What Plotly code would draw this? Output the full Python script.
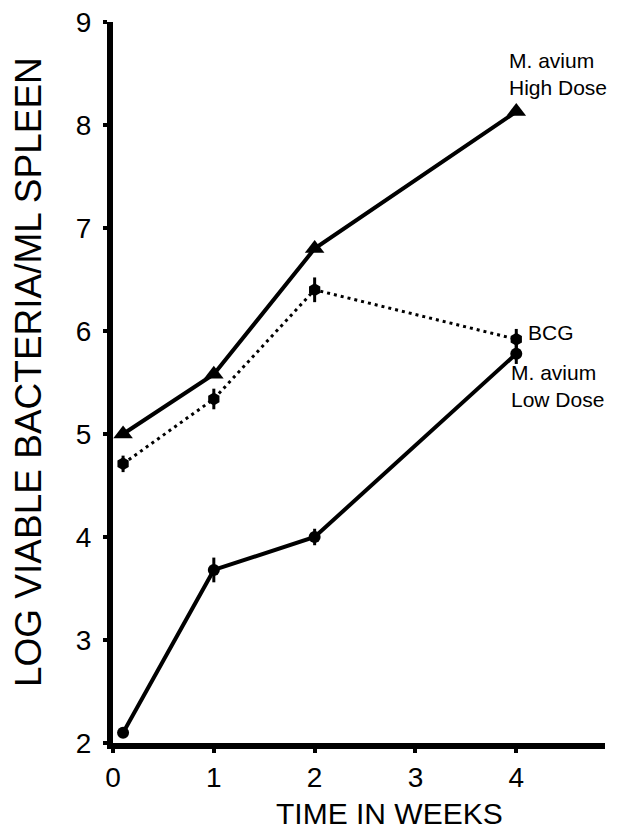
import plotly.graph_objects as go

weeks = [0.1, 1, 2, 4]
high_dose = [5.0, 5.58, 6.80, 8.13]
bcg = [4.71, 5.34, 6.40, 5.92]
bcg_err = [0.08, 0.1, 0.12, 0.1]
low_dose = [2.1, 3.68, 4.0, 5.78]
low_err = [0.05, 0.12, 0.08, 0.1]
x_ticks = [0, 1, 2, 3, 4]
y_ticks = [2, 3, 4, 5, 6, 7, 8, 9]

font = "Liberation Sans, Arial, sans-serif"

fig = go.Figure()
fig.add_trace(go.Scatter(
    x=weeks, y=bcg, mode="lines+markers",
    line=dict(color="black", width=3, dash="3px,4px"),
    marker=dict(symbol="hexagon", size=13, color="black"),
    error_y=dict(type="data", array=bcg_err, color="black", thickness=3, width=0),
))
fig.add_trace(go.Scatter(
    x=weeks, y=low_dose, mode="lines+markers",
    line=dict(color="black", width=4),
    marker=dict(symbol="circle", size=12, color="black"),
    error_y=dict(type="data", array=low_err, color="black", thickness=3, width=0),
))
fig.add_trace(go.Scatter(
    x=weeks, y=high_dose, mode="lines+markers",
    line=dict(color="black", width=4),
    marker=dict(symbol="triangle-up", size=17, color="black"),
))

ann = dict(font=dict(family=font, size=21, color="black"), showarrow=False,
           xanchor="left", yanchor="middle", xref="x", yref="y", align="left")
fig.add_annotation(x=3.91, y=8.50, text="M. avium<br>High Dose", **ann)
fig.add_annotation(x=4.10, y=5.99, text="BCG", **ann)
fig.add_annotation(x=3.93, y=5.47, text="M. avium<br>Low Dose", **ann)

# axis titles
fig.add_annotation(x=-0.172, y=0.515, xref="paper", yref="paper", showarrow=False,
                   text="LOG VIABLE BACTERIA/ML SPLEEN", textangle=-90,
                   font=dict(family=font, size=37, color="black"),
                   xanchor="center", yanchor="middle")
fig.add_annotation(x=0.563, y=-0.072, xref="paper", yref="paper", showarrow=False,
                   text="TIME IN WEEKS",
                   font=dict(family=font, size=30, color="black"),
                   xanchor="center", yanchor="top")

fig.update_layout(
    width=620, height=830,
    margin=dict(l=105, r=23, t=14, b=95),
    paper_bgcolor="white", plot_bgcolor="white",
    showlegend=False,
    font=dict(family=font, size=28, color="black"),
    xaxis=dict(
        range=[0, 4.88], tickvals=x_ticks, ticktext=[str(v) for v in x_ticks],
        showline=True, linecolor="black", linewidth=6, showgrid=False, zeroline=False,
        ticks="outside", ticklen=4, tickwidth=4, tickcolor="black",
        ticklabelstandoff=0, automargin=False, ticklabeloverflow="allow",
        tickfont=dict(size=28),
    ),
    yaxis=dict(
        range=[2, 9], tickvals=y_ticks, ticktext=[str(v) for v in y_ticks],
        showline=True, linecolor="black", linewidth=6, showgrid=False, zeroline=False,
        ticks="outside", ticklen=4, tickwidth=4, tickcolor="black",
        ticklabelstandoff=6, automargin=False, ticklabeloverflow="allow",
        tickfont=dict(size=28),
    ),
)

fig.write_html("out.html")
